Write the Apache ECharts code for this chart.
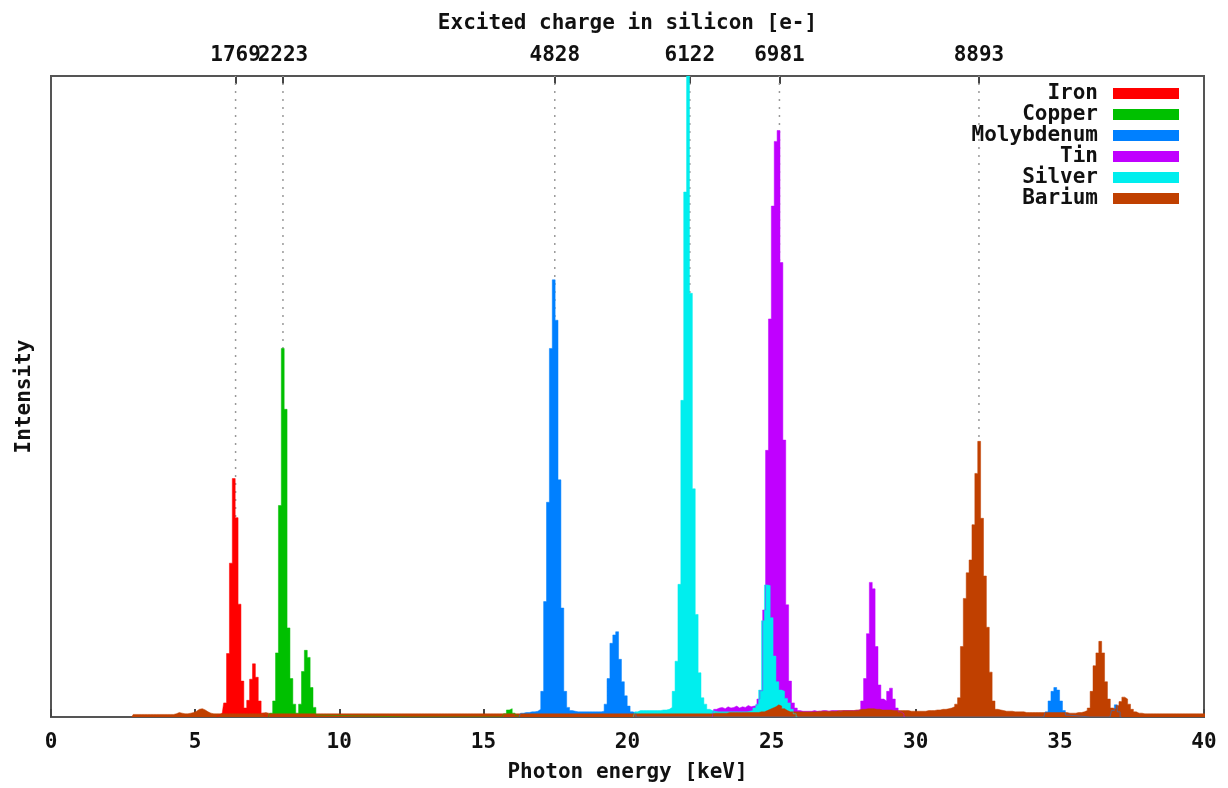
<!DOCTYPE html>
<html>
<head>
<meta charset="utf-8">
<script src="https://cdn.jsdelivr.net/npm/echarts@6/dist/echarts.min.js"></script>
<style>
html,body{margin:0;padding:0;background:#fff;}
#chart{width:1228px;height:788px;}
</style>
</head>
<body>
<div id="chart"></div>
<script>
// ---- DATA ----
const binWidth = 0.1; // keV per histogram bin
// segments: [first bin centre (keV), counts per 0.1 keV bin]
const ironSegments = [
  [5.84, [3,6,22,99,240,372,311,176,56,14,26,59,83,62,25,6,2]]
];
const copperSegments = [
  [7.64, [6,25,100,330,575,480,139,60,20,6,20,71,104,93,46,15,3]],
  [15.75, [5,11,13,6,2]]
];
const molybdenumSegments = [
  [16.34, [6,7,7,8,8,9,12,40,180,335,575,682,619,370,170,40,15,10,9,8,8,8,8,8,8,8,8,8,9,20,60,115,128,133,90,55,33,17,8,6]],
  [34.54, [8,25,40,46,42,25,10,3]],
  [36.84, [10,19,8]]
];
const tinSegments = [
  [23.04, [12,14,15,13,16,14,15,17,14,16,15,18,16,17,18,28,41,167,416,621,797,898,915,709,432,175,56,22,14,10,
           9,9,9,9,10,9,9,10,10,9,10,10,10,9,10,10,10,10,10,
           10,12,25,60,130,210,200,110,50,28,25,40,45,28,14,8,5]]
];
const silverSegments = [
  [20.3, [8,10,10,10,10,10,10,10,10,11,11,12,15,40,87,207,494,819,1000,661,356,160,69,30,20,12,10,9,8,8,8,8,8,8,8,8,8,8,8,9,10,14,20,42,150,206,205,155,95,55,42,40,29,22,12,5]]
];
const bariumSegments = [
  [2.9, [4,
    4,4,4,4,4,4,4,4,4,4,
    4,4,4,5,7,6,5,5,6,7,
    9,12,13,11,8,6,5,5,5,5,
    5,5,5,5,5,5,5,5,5,5,
    5,5,5,6,7,6,5,5,5,5,
    5,5,5,5,5,5,5,5,5,5,
    5,5,5,5,5,5,5,5,5,5,
    5,5,5,5,5,5,5,5,5,5,
    5,5,5,5,5,5,5,5,5,5,
    5,5,5,5,5,5,5,5,5,5,
    5,5,5,5,5,5,5,5,5,5,
    5,5,5,5,5,5,5,5,5,5,
    5,5,5,5,5,5,5,5,5,5,
    5,5,5,5,5,5,5,5,5,5,
    5,5,5,5,5,5,5,5,5,5,
    5,5,5,5,5,5,5,5,5,5,
    5,5,5,5,5,5,5,5,5,5,
    5,5,5,5,5,5,5,5,5,5,
    5,5,5,5,5,5,5,5,5,5,
    5,5,5,5,5,5,5,5,5,5,
    6,6,6,6,6,7,7,7,7,7,
    7,7,7,7,7,7,8,8,10,12,
    14,16,19,17,13,10,8,8,8,8,
    8,8,8,8,8,8,9,9,9,9,
    9,9,9,10,10,10,10,10,10,11,
    11,12,12,13,13,13,12,12,11,11,
    11,11,10,10,10,10,10,10,9,9,
    9,9,9,9,10,10,10,11,11,12,
    12,13,14,16,20,30,110,185,225,245,
    300,380,430,310,220,140,70,25,12,11,
    10,9,9,9,8,8,8,8,7,7,
    7,7,7,7,7,7,7,7,7,7,
    7,7,7,6,6,6,7,7,8,10,
    14,40,80,100,118,100,55,28,14,12,
    18,24,31,28,20,12,8,6,6,5,
    5,5,5,5,5,5,5,5,5,5,
    5,5,5,5,5,5,5,5,5,5,
    5]]
];
const seriesNames = ['Iron','Copper','Molybdenum','Tin','Silver','Barium'];
const seriesColors = ['#ff0000','#00c000','#0080ff','#c000ff','#00eeee','#c04000'];
const chargeTicks = [1769, 2223, 4828, 6122, 6981, 8893]; // electrons
const eVPerPair = 3.62;
const energyMax = 40;
const energyTickStep = 5;
const intensityMax = 1000;

// ---- BUILD ----
function buildPoints(segments) {
  const pts = [];
  segments.forEach(([start, counts]) => {
    pts.push([+(start - binWidth).toFixed(3), 0]);
    counts.forEach((c, i) => pts.push([+(start + i * binWidth).toFixed(3), c]));
    pts.push([+(start + counts.length * binWidth).toFixed(3), 0]);
  });
  return pts;
}
const allSegments = [ironSegments, copperSegments, molybdenumSegments, tinSegments, silverSegments, bariumSegments];

const FONT = 'DejaVu Sans Mono';
const txt = {fontFamily: FONT, fontWeight: 'bold', fontSize: 21, color: '#111'};

const series = allSegments.map((seg, k) => ({
  name: seriesNames[k],
  type: 'line',
  step: 'middle',
  xAxisIndex: 0,
  yAxisIndex: 0,
  symbol: 'none',
  showSymbol: false,
  silent: true,
  z: 3,
  color: seriesColors[k],
  itemStyle: {color: seriesColors[k]},
  lineStyle: {color: seriesColors[k], width: 0.5},
  areaStyle: {color: seriesColors[k], opacity: 1},
  data: buildPoints(seg)
}));

// dotted guide lines (drawn beneath the spectra)
const guidePoints = [];
chargeTicks.forEach(c => { guidePoints.push([c, 0], [c, intensityMax], ['-', '-']); });
series.unshift({
  name: 'guides',
  type: 'line',
  xAxisIndex: 1,
  yAxisIndex: 0,
  z: 1,
  silent: true,
  symbol: 'none',
  showSymbol: false,
  connectNulls: false,
  lineStyle: {color: '#999', type: [2, 6], width: 1.5},
  data: guidePoints
});

const chargeMax = energyMax * 1000 / eVPerPair;
const chart = echarts.init(document.getElementById('chart'), null, {renderer: 'canvas'});
chart.setOption({
  animation: false,
  backgroundColor: '#fff',
  grid: {left: 51, right: 24, top: 76, bottom: 65, show: true, borderColor: '#555', borderWidth: 2, backgroundColor: 'transparent'},
  legend: {
    orient: 'vertical', right: 44, top: 78, align: 'right',
    icon: 'rect', itemWidth: 66, itemHeight: 11, itemGap: 0,
    textStyle: Object.assign({}, txt, {lineHeight: 21, padding: [0, 10, 0, 0]}),
    data: seriesNames
  },
  xAxis: [
    {
      type: 'value', position: 'bottom', min: 0, max: energyMax, interval: energyTickStep,
      axisLine: {show: true, lineStyle: {color: '#555', width: 2}},
      axisTick: {show: true, inside: true, length: 8, lineStyle: {color: '#444', width: 2}},
      axisLabel: Object.assign({}, txt, {margin: 15}),
      splitLine: {show: false},
      name: 'Photon energy [keV]', nameLocation: 'middle', nameGap: 45,
      nameTextStyle: txt
    },
    {
      type: 'value', position: 'top', min: 0, max: chargeMax,
      axisLine: {show: true, lineStyle: {color: '#555', width: 2}},
      axisTick: {show: true, inside: true, length: 8, customValues: chargeTicks, lineStyle: {color: '#444', width: 2}},
      axisLabel: Object.assign({}, txt, {margin: 10, customValues: chargeTicks.slice(1), hideOverlap: false, formatter: v => String(v)}),
      splitLine: {show: false},
      name: 'Excited charge in silicon [e-]', nameLocation: 'middle', nameGap: 42,
      nameTextStyle: txt
    },
    {
      type: 'value', position: 'top', min: 0, max: chargeMax,
      axisLine: {show: false},
      axisTick: {show: false},
      axisLabel: Object.assign({}, txt, {margin: 10, customValues: chargeTicks.slice(0, 1), hideOverlap: false, formatter: v => String(v)}),
      splitLine: {show: false}
    }
  ],
  yAxis: {
    type: 'value', min: 0, max: intensityMax,
    axisLine: {show: true, lineStyle: {color: '#555', width: 2}},
    axisTick: {show: false}, axisLabel: {show: false}, splitLine: {show: false},
    name: 'Intensity', nameLocation: 'middle', nameRotate: 90, nameGap: 16,
    nameTextStyle: txt
  },
  series: series
});
</script>
</body>
</html>
